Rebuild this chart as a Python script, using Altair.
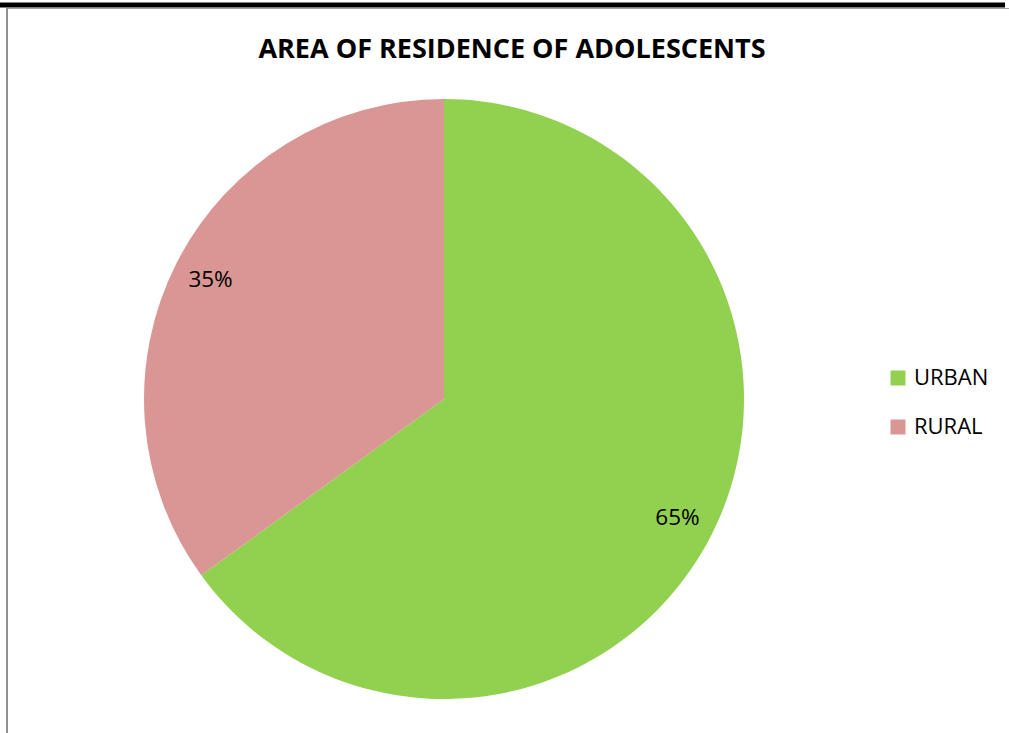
import altair as alt
import pandas as pd

categories = ["URBAN", "RURAL"]
values = [65, 35]
labels = ["65%", "35%"]
colors = ["#92D050", "#D99694"]
title_text = "AREA OF RESIDENCE OF ADOLESCENTS"

df = pd.DataFrame({"cat": categories, "val": values, "label": labels, "order": [0, 1]})

W, H = 1009, 733
CX, CY, R = 444, 399, 300
FONT = "Open Sans"

base = alt.Chart(df).encode(
    theta=alt.Theta("val:Q", stack=True),
    order=alt.Order("order:Q"),
)

pie = base.mark_arc(outerRadius=R, stroke=None).encode(
    x=alt.value(CX), y=alt.value(CY),
    color=alt.Color("cat:N", scale=alt.Scale(domain=categories, range=colors),
                    sort=categories,
                    legend=alt.Legend(title=None, orient="none", legendX=887, legendY=367,
                                      symbolType="square", symbolSize=225,
                                      symbolStrokeWidth=0,
                                      labelFont=FONT, labelFontSize=22, labelColor="#000",
                                      rowPadding=27, labelOffset=5)),
)

text = base.mark_text(radius=262, font=FONT, fontSize=22.5, color="#000").encode(
    x=alt.value(CX), y=alt.value(CY), text="label:N"
)

tdf = pd.DataFrame({"t": [title_text]})
title = alt.Chart(tdf).mark_text(font=FONT, fontSize=27, fontWeight="bold", color="#000",
                                 baseline="middle").encode(
    x=alt.value(512), y=alt.value(50), text="t:N")

bdf = pd.DataFrame({"a": [0]})
top_bar = alt.Chart(bdf).mark_rule(color="#000", strokeWidth=5).encode(
    x=alt.value(0), x2=alt.value(1005), y=alt.value(5))
top_gray = alt.Chart(bdf).mark_rule(color="#a0a0a0", strokeWidth=1).encode(
    x=alt.value(6), x2=alt.value(1009), y=alt.value(8.5))
left_gray = alt.Chart(bdf).mark_rule(color="#909090", strokeWidth=2).encode(
    x=alt.value(7), y=alt.value(8), y2=alt.value(733))

chart = alt.layer(pie, text, title, top_bar, top_gray, left_gray).properties(
    width=W, height=H, padding=0, autosize=alt.AutoSizeParams(type="none")
).configure_view(stroke=None)

chart.save("out.html", embed_options={"renderer": "svg", "actions": False})
